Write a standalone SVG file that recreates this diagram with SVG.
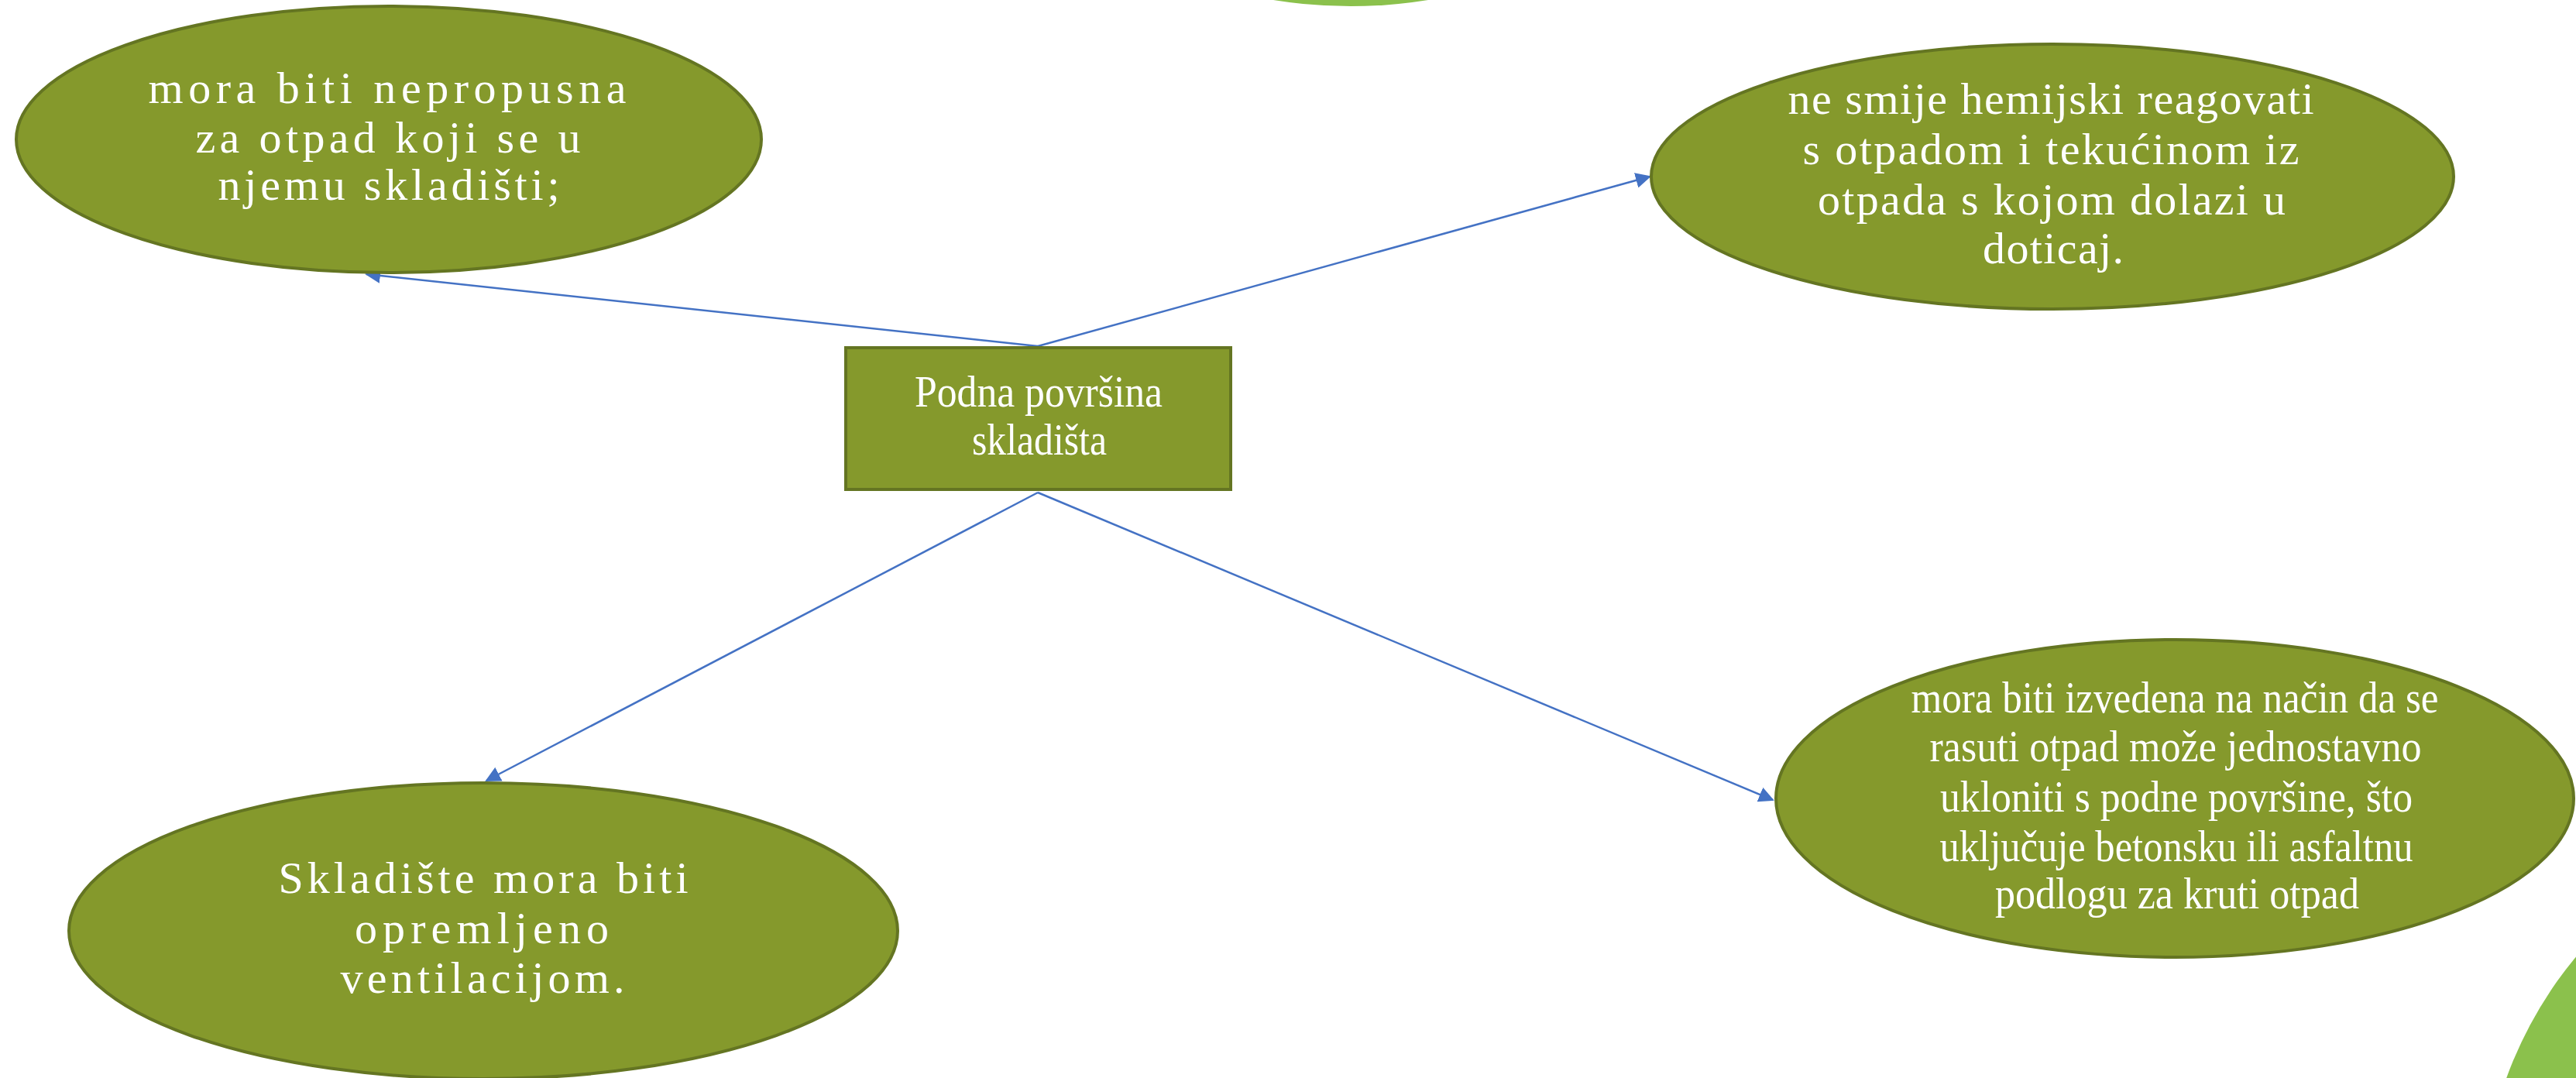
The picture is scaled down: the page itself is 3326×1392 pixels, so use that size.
<svg xmlns="http://www.w3.org/2000/svg" width="3326" height="1392" viewBox="0 0 3326 1392">
<defs>
<style>
.node{fill:#85992C;stroke:#647522;stroke-width:4}
.lbl{font-family:"Liberation Serif","Times New Roman",serif;font-size:58px;fill:#FFFFFF;text-anchor:middle}
.lbs{font-family:"Liberation Serif","Times New Roman",serif;font-size:56px;fill:#FFFFFF;text-anchor:middle}
.conn{stroke:#4472C4;stroke-width:2.5;fill:none;marker-end:url(#arr)}
.deco{fill:#8BC14C}
</style>
<marker id="arr" viewBox="0 0 10 10" refX="9" refY="5" markerWidth="8" markerHeight="8" orient="auto" markerUnits="strokeWidth">
<path d="M0,0 L10,5 L0,10 z" fill="#4472C4"/>
</marker>
</defs>
<rect width="3326" height="1392" fill="#FFFFFF"/>
<g id="decor">
<circle class="deco" cx="1744" cy="-621" r="629"/>
<circle class="deco" cx="3728" cy="1570" r="523"/>
</g>
<g id="connectors">
<line class="conn" x1="1340" y1="447" x2="473" y2="354"/>
<line class="conn" x1="1340" y1="447" x2="2130" y2="228"/>
<line class="conn" x1="1340" y1="636" x2="628" y2="1008"/>
<line class="conn" x1="1340" y1="636" x2="2289" y2="1033"/>
</g>
<g id="n_center">
<rect x="1092" y="449" width="497" height="183" fill="#85992C" stroke="#647522" stroke-width="4"/>
<text class="lbs" x="1341" y="525" textLength="320" lengthAdjust="spacingAndGlyphs">Podna površina</text>
<text class="lbs" x="1342" y="587" textLength="174" lengthAdjust="spacingAndGlyphs">skladišta</text>
</g>
<g id="n_top_left">
<ellipse class="node" cx="502" cy="180" rx="481" ry="172"/>
<text class="lbl" x="500" y="133" textLength="617">mora biti nepropusna</text>
<text class="lbl" x="501" y="197" textLength="497">za otpad koji se u</text>
<text class="lbl" x="502" y="258" textLength="441">njemu skladišti;</text>
</g>
<g id="n_top_right">
<ellipse class="node" cx="2650" cy="228" rx="518" ry="171"/>
<text class="lbl" x="2648" y="147" textLength="679">ne smije hemijski reagovati</text>
<text class="lbl" x="2648" y="212" textLength="641">s otpadom i tekućinom iz</text>
<text class="lbl" x="2649" y="277" textLength="604">otpada s kojom dolazi u</text>
<text class="lbl" x="2651" y="340" textLength="182">doticaj.</text>
</g>
<g id="n_bottom_right">
<ellipse class="node" cx="2808" cy="1031" rx="515" ry="205"/>
<text class="lbs" x="2808" y="920" textLength="681" lengthAdjust="spacingAndGlyphs">mora biti izvedena na način da se</text>
<text class="lbs" x="2809" y="983" textLength="635" lengthAdjust="spacingAndGlyphs">rasuti otpad može jednostavno</text>
<text class="lbs" x="2810" y="1048" textLength="610" lengthAdjust="spacingAndGlyphs">ukloniti s podne površine, što</text>
<text class="lbs" x="2810" y="1112" textLength="611" lengthAdjust="spacingAndGlyphs">uključuje betonsku ili asfaltnu</text>
<text class="lbs" x="2811" y="1173" textLength="470" lengthAdjust="spacingAndGlyphs">podlogu za kruti otpad</text>
</g>
<g id="n_bottom_left">
<ellipse class="node" cx="624" cy="1202" rx="535" ry="191"/>
<text class="lbl" x="624" y="1153" textLength="529">Skladište mora biti</text>
<text class="lbl" x="622" y="1218" textLength="328">opremljeno</text>
<text class="lbl" x="623" y="1282" textLength="367">ventilacijom.</text>
</g>
</svg>
